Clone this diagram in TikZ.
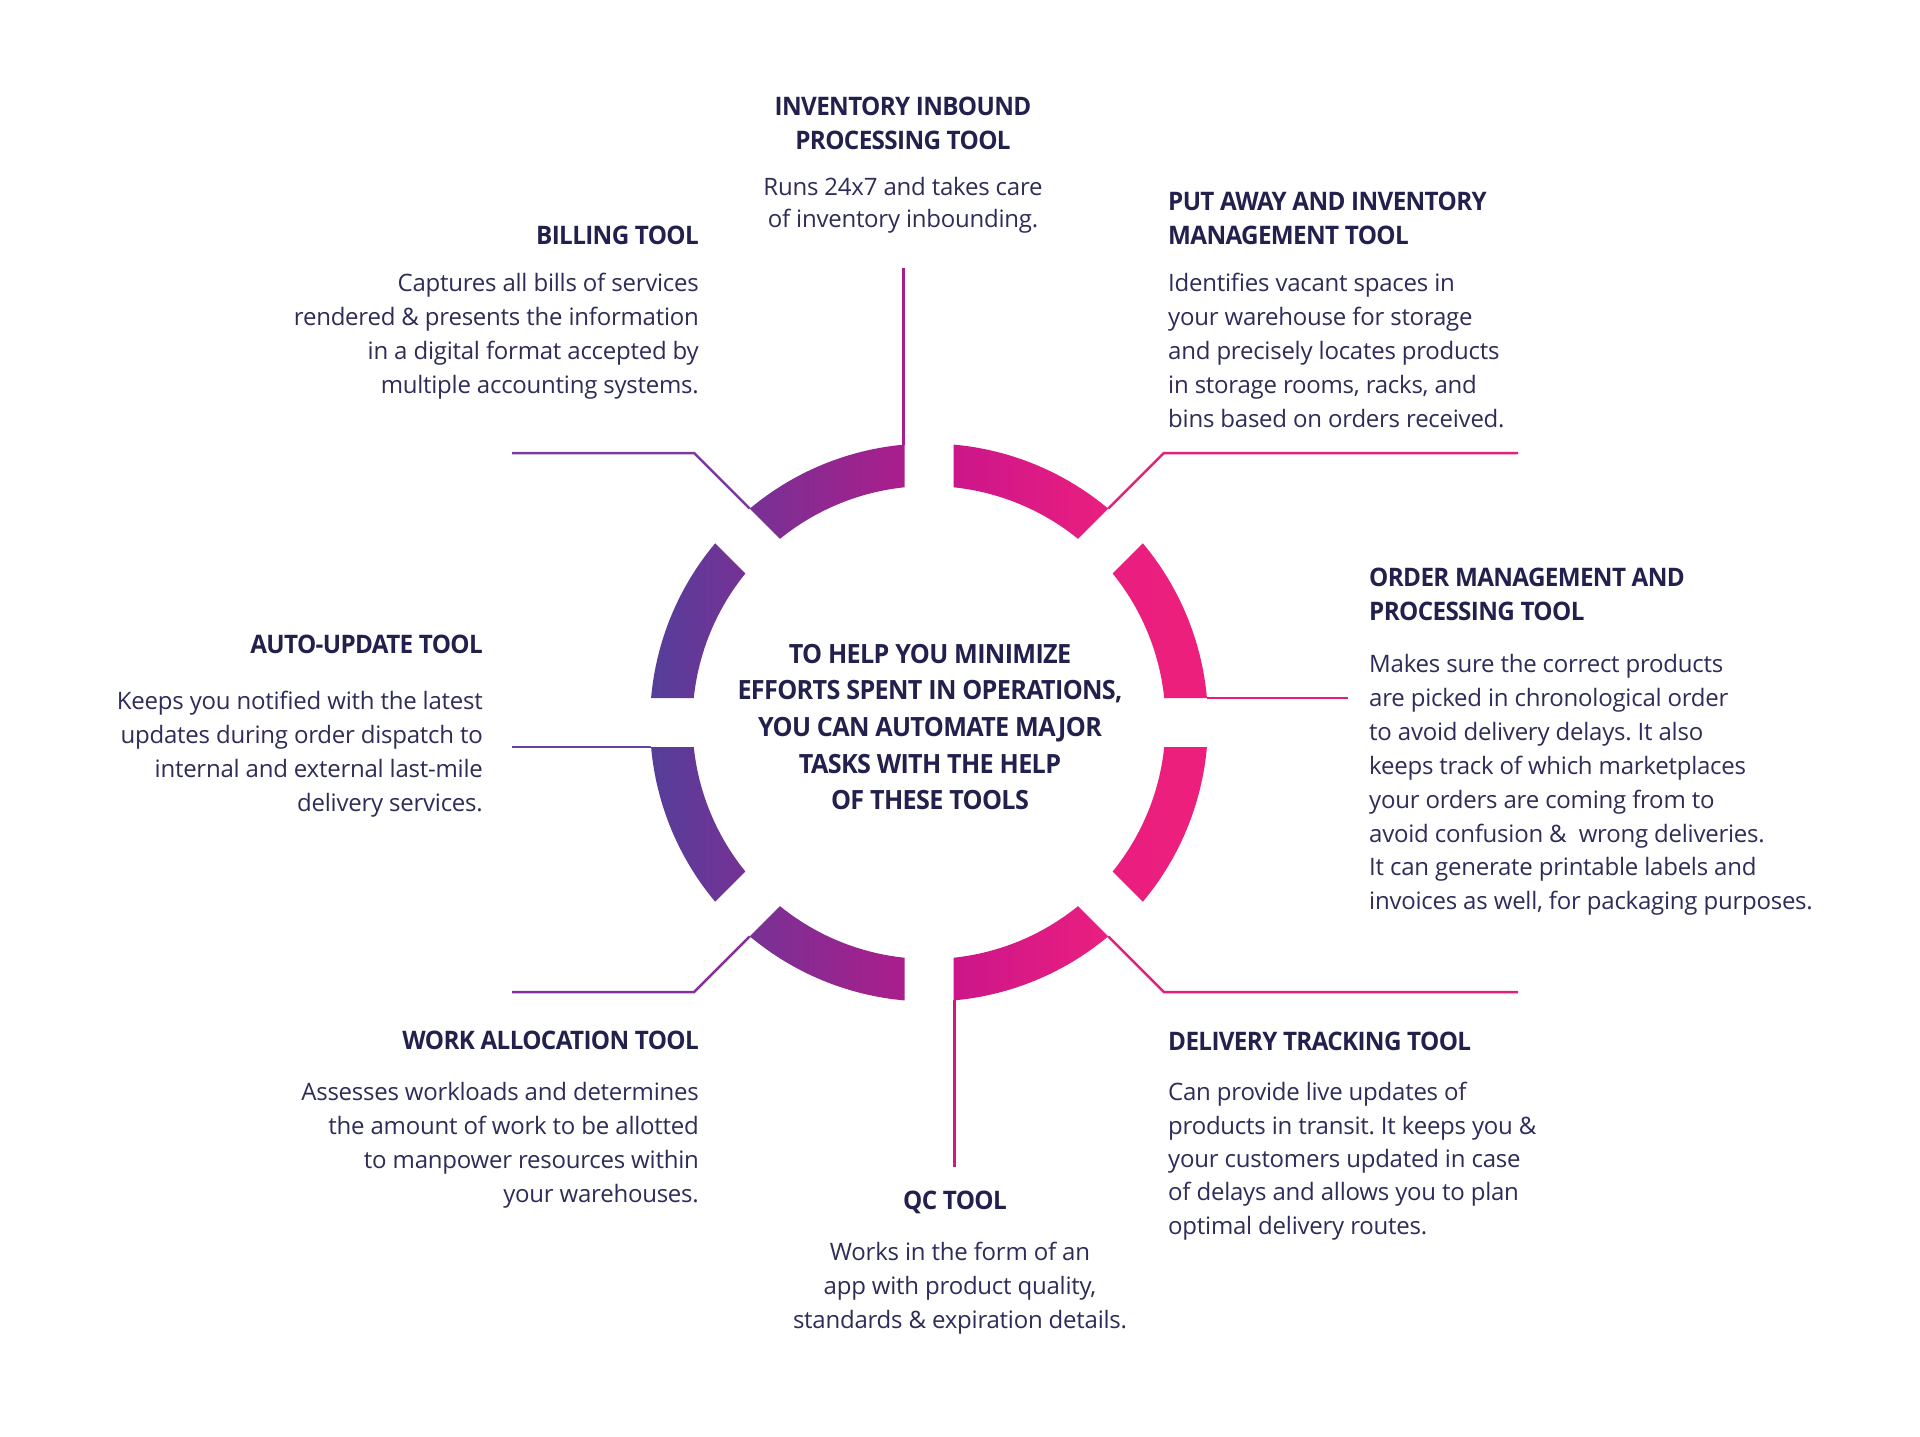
\documentclass[tikz,border=0pt]{standalone}
\usepackage{fontspec}
\setmainfont{Open Sans}[LetterSpace=-1]
\newfontfamily\headfont{Open Sans}[LetterSpace=-2.5,FakeStretch=0.95]
\usetikzlibrary{calc}
\frenchspacing
\definecolor{ringA}{HTML}{553E9A}
\definecolor{ringB}{HTML}{AA1E8C}
\definecolor{ringC}{HTML}{CC168A}
\definecolor{ringD}{HTML}{E81E80}
\definecolor{ringE}{HTML}{EE1F7C}
\definecolor{headcol}{HTML}{22204D}
\definecolor{bodycol}{HTML}{2E2C58}
\definecolor{lnBill}{HTML}{7E3A9C}
\definecolor{lnIn}{HTML}{A81E8E}
\definecolor{lnPut}{HTML}{E42079}
\definecolor{lnOrd}{HTML}{E91E7B}
\definecolor{lnAuto}{HTML}{6643A2}
\definecolor{lnWork}{HTML}{85309A}
\definecolor{lnDel}{HTML}{E21F7C}
\definecolor{lnQC}{HTML}{D4167F}
\pgfdeclarehorizontalshading{ringshade}{100bp}{color(0bp)=(ringA); color(25bp)=(ringA); color(47.5bp)=(ringB); color(52.5bp)=(ringC); color(65bp)=(ringD); color(75bp)=(ringE); color(100bp)=(ringE)}
\tikzset{
  head/.style={inner sep=0pt, text=headcol, font=\headfont\bfseries\fontsize{25.5}{33.5}\selectfont},
  bodytxt/.style={inner sep=0pt, text=bodycol, font=\frenchspacing\fontsize{24}{34}\selectfont},
  centretxt/.style={inner sep=0pt, text=headcol, align=center, font=\headfont\bfseries\fontsize{26.5}{36.7}\selectfont},
  conn/.style={line width=2.5pt, line cap=butt, line join=miter},
}
\begin{document}
\begin{tikzpicture}[x=1pt,y=1pt]
\useasboundingbox (0,0) rectangle (1920,-1437);
\fill[white] (0,0) rectangle (1920,-1437);

% ring of eight segments
\shade[shading=ringshade]
  \foreach \a in {0,45,...,315} {
    ({929+279*cos(\a+5.038)},{-722.5+279*sin(\a+5.038)})
    arc[start angle=\a+5.038, end angle=\a+39.962, radius=279]
    -- ({929+236.5*cos(\a+39.054)},{-722.5+236.5*sin(\a+39.054)})
    arc[start angle=\a+39.054, end angle=\a+5.946, radius=236.5]
    -- cycle
  };

% connector anchor points
\coordinate (inTop) at (903.5,-268);
\coordinate (inSeg) at (903.5,-444.6);
\coordinate (qcSeg) at (954.5,-1000.4);
\coordinate (qcEnd) at (954.5,-1167);
\coordinate (billSeg) at (749.8,-508.6);
\coordinate (billBend) at (694.2,-453);
\coordinate (billEnd) at (512,-453);
\coordinate (putSeg) at (1108.2,-508.6);
\coordinate (putBend) at (1163.8,-453);
\coordinate (putEnd) at (1518,-453);
\coordinate (ordSeg) at (1206.9,-698);
\coordinate (ordEnd) at (1348,-698);
\coordinate (autoSeg) at (651.1,-747);
\coordinate (autoEnd) at (512,-747);
\coordinate (workSeg) at (749.8,-936.4);
\coordinate (workBend) at (694.2,-992);
\coordinate (workEnd) at (512,-992);
\coordinate (delSeg) at (1108.2,-936.4);
\coordinate (delBend) at (1163.8,-992);
\coordinate (delEnd) at (1518,-992);

\draw[conn, lnIn] (inTop) -- (inSeg);
\draw[conn, lnQC] (qcSeg) -- (qcEnd);
\draw[conn, lnBill] (billSeg) -- (billBend) -- (billEnd);
\draw[conn, lnPut] (putSeg) -- (putBend) -- (putEnd);
\draw[conn, lnOrd] (ordSeg) -- (ordEnd);
\draw[conn, lnAuto] (autoSeg) -- (autoEnd);
\draw[conn, lnWork] (workSeg) -- (workBend) -- (workEnd);
\draw[conn, lnDel] (delSeg) -- (delBend) -- (delEnd);

% centre text (base = last line)
\node[centretxt, anchor=base] (centre) at (930,-809.8)
  {TO HELP YOU MINIMIZE\\EFFORTS SPENT IN OPERATIONS,\\YOU CAN AUTOMATE MAJOR\\TASKS WITH THE HELP\\OF THESE TOOLS};

% inventory inbound
\node[head, align=center, anchor=base] (inH) at (903,-149.2)
  {INVENTORY INBOUND\\PROCESSING TOOL};
\node[bodytxt, align=center, anchor=base, font=\fontsize{24}{32}\selectfont] (inB) at (903,-227)
  {Runs 24x7 and takes care\\of inventory inbounding.};

% billing
\node[head, anchor=base east] (billH) at (699,-244) {BILLING TOOL};
\node[bodytxt, align=right, anchor=base east] (billB) at (699,-393.5)
  {Captures all bills of services\\rendered \& presents the information\\in a digital format accepted by\\multiple accounting systems.};

% put away
\node[head, align=left, anchor=base west] (putH) at (1168,-244.2)
  {PUT AWAY AND INVENTORY\\MANAGEMENT TOOL};
\node[bodytxt, align=left, anchor=base west] (putB) at (1168,-427.5)
  {Identifies vacant spaces in\\your warehouse for storage\\and precisely locates products\\in storage rooms, racks, and\\bins based on orders received.};

% order management
\node[head, align=left, anchor=base west] (ordH) at (1369,-620.2)
  {ORDER MANAGEMENT AND\\PROCESSING TOOL};
\node[bodytxt, align=left, anchor=base west, font=\fontsize{24}{33.9}\selectfont] (ordB) at (1369,-909.8)
  {Makes sure the correct products\\are picked in chronological order\\to avoid delivery delays. It also\\keeps track of which marketplaces\\your orders are coming from to\\avoid confusion \&\ \ wrong deliveries.\\It can generate printable labels and\\invoices as well, for packaging purposes.};

% auto-update
\node[head, anchor=base east] (autoH) at (483,-653.3) {AUTO-UPDATE TOOL};
\node[bodytxt, align=right, anchor=base east] (autoB) at (483,-811)
  {Keeps you notified with the latest\\updates during order dispatch to\\internal and external last-mile\\delivery services.};

% work allocation
\node[head, anchor=base east] (workH) at (699,-1049.5) {WORK ALLOCATION TOOL};
\node[bodytxt, align=right, anchor=base east] (workB) at (699,-1202.3)
  {Assesses workloads and determines\\the amount of work to be allotted\\to manpower resources within\\your warehouses.};

% delivery tracking
\node[head, anchor=base west] (delH) at (1168,-1050) {DELIVERY TRACKING TOOL};
\node[bodytxt, align=left, anchor=base west, font=\fontsize{24}{33.4}\selectfont] (delB) at (1168,-1234.3)
  {Can provide live updates of\\products in transit. It keeps you \&\\your customers updated in case\\of delays and allows you to plan\\optimal delivery routes.};

% QC
\node[head, anchor=base] (qcH) at (955,-1209) {QC TOOL};
\node[bodytxt, align=center, anchor=base] (qcB) at (960,-1328)
  {Works in the form of an\\app with product quality,\\standards \& expiration details.};
\end{tikzpicture}
\end{document}
